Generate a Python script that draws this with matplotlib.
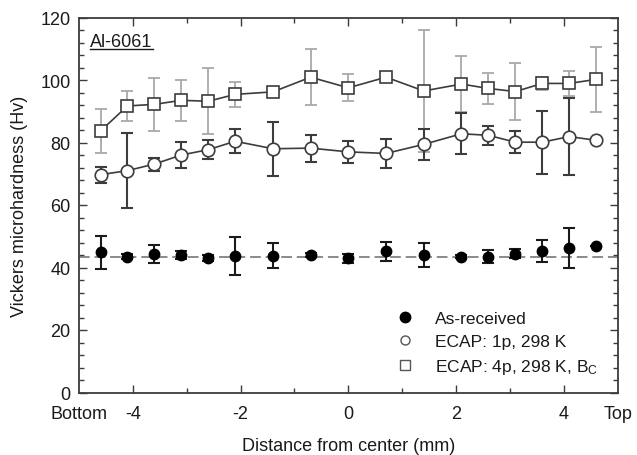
import matplotlib
matplotlib.use("Agg")
import matplotlib.pyplot as plt
from matplotlib.lines import Line2D
from matplotlib.ticker import MultipleLocator, FixedLocator

plt.rcParams['font.family'] = ['Liberation Sans', 'DejaVu Sans']
plt.rcParams['mathtext.fontset'] = 'custom'
plt.rcParams['mathtext.rm'] = 'Liberation Sans'
plt.rcParams['mathtext.it'] = 'Liberation Sans:italic'

# ---- data ----
x_mm = [-4.6, -4.1, -3.6, -3.1, -2.6, -2.1, -1.4, -0.7, 0.0, 0.7, 1.4, 2.1, 2.6, 3.1, 3.6, 4.1, 4.6]
asrec = [44.9, 43.5, 44.3, 44.0, 43.0, 43.6, 43.8, 44.1, 42.9, 45.2, 44.1, 43.5, 43.5, 44.4, 45.2, 46.1, 46.9]
asrec_err = [5.3, 0.8, 2.9, 1.3, 1.0, 6.1, 4.0, 0.6, 1.3, 3.0, 3.8, 0.5, 2.2, 1.5, 3.5, 6.4, 0.0]
ecap1 = [69.7, 71.0, 73.1, 76.0, 77.7, 80.4, 78.0, 78.2, 77.0, 76.5, 79.4, 82.8, 82.3, 80.1, 80.1, 81.9, 80.7]
ecap1_err = [2.5, 12.0, 2.1, 4.1, 3.0, 3.9, 8.7, 4.3, 3.4, 4.6, 5.0, 6.5, 3.1, 3.5, 10.1, 12.2, 0.0]
ecap4 = [83.7, 91.7, 92.2, 93.5, 93.2, 95.4, 96.2, 100.9, 97.5, 100.9, 96.5, 98.7, 97.3, 96.3, 98.9, 98.9, 100.2]
ecap4_err = [6.9, 4.7, 8.5, 6.6, 10.5, 4.0, 0.5, 9.0, 4.3, 0.5, 19.5, 9.0, 5.1, 9.2, 2.2, 4.1, 10.5]
asrec_mean = 43.5

xtick_pos = [-5, -4, -2, 0, 2, 4, 5]
xtick_labels = ['Bottom', '-4', '-2', '0', '2', '4', 'Top']
ytick_pos = [0, 20, 40, 60, 80, 100, 120]

legend_labels = ['As-received', 'ECAP: 1p, 298 K', 'ECAP: 4p, 298 K, B$_\\mathrm{C}$']
sample_label = 'Al-6061'

# ---- figure ----
W, H = 637, 456
fig = plt.figure(figsize=(W / 100, H / 100), dpi=100)
ax = fig.add_axes([79 / W, 1 - 393.5 / H, (617.7 - 79) / W, (393.5 - 18.5) / H])

dark = '#3c3c3c'
light = '#a9a9a9'
FS = 13

# ECAP 4p squares
ax.errorbar(x_mm, ecap4, yerr=ecap4_err, fmt='none', ecolor=light, elinewidth=1.3,
            capsize=4, capthick=1.3, zorder=2)
ax.plot(x_mm, ecap4, color=dark, lw=1.2, marker='s', ms=8, mfc='white', mec=dark,
        mew=1.2, zorder=3)

# ECAP 1p circles
ax.errorbar(x_mm, ecap1, yerr=ecap1_err, fmt='none', ecolor=dark, elinewidth=1.5,
            capsize=4.5, capthick=1.5, zorder=4)
ax.plot(x_mm, ecap1, color=dark, lw=1.2, marker='o', ms=9, mfc='white', mec=dark,
        mew=1.2, zorder=5)

# As-received
ax.axhline(asrec_mean, color='#8a8a8a', lw=1.4, ls=(0, (5.5, 2.5)), zorder=1)
ax.errorbar(x_mm, asrec, yerr=asrec_err, fmt='o', color='black', ms=7.5,
            ecolor='#1a1a1a', elinewidth=1.5, capsize=4.5, capthick=1.5, zorder=6)

ax.set_xlim(-5, 5)
ax.set_ylim(0, 120)

ax.xaxis.set_major_locator(FixedLocator(xtick_pos))
ax.set_xticklabels(xtick_labels)
ax.xaxis.set_minor_locator(FixedLocator([-3, -1, 1, 3]))
ax.yaxis.set_major_locator(FixedLocator(ytick_pos))
ax.yaxis.set_minor_locator(MultipleLocator(4))

ax.tick_params(which='both', direction='in', top=True, right=True, colors=dark,
               labelcolor='#1a1a1a', labelsize=FS)
ax.tick_params(which='major', length=6, width=1.0)
ax.tick_params(which='minor', length=3.5, width=1.0)
ax.tick_params(axis='x', which='major', pad=9)
ax.tick_params(axis='y', which='major', pad=6)
# hide tick marks at the Bottom/Top label positions
for t in ax.xaxis.get_major_ticks():
    if t.get_loc() in (-5, 5):
        t.tick1line.set_visible(False)
        t.tick2line.set_visible(False)

for s in ax.spines.values():
    s.set_color(dark)
    s.set_linewidth(1.3)

ax.set_xlabel('Distance from center (mm)', fontsize=FS, color='#1a1a1a', labelpad=11)
ax.set_ylabel('Vickers microhardness (Hv)', fontsize=FS, color='#1a1a1a', labelpad=9)

# sample label with underline
txt = ax.text(0.021, 0.935, sample_label, transform=ax.transAxes, fontsize=FS,
              color='#1a1a1a', ha='left', va='center')
fig.canvas.draw()
bb = txt.get_window_extent(renderer=fig.canvas.get_renderer())
inv = fig.transFigure.inverted()
(x0, y0) = inv.transform((bb.x0, bb.y0 + 1))
(x1, _) = inv.transform((bb.x1, bb.y0 + 1))
fig.add_artist(Line2D([x0, x1], [y0, y0], transform=fig.transFigure, color='#1a1a1a', lw=1.0))

handles = [
    Line2D([], [], ls='none', marker='o', ms=7.5, color='black'),
    Line2D([], [], ls='none', marker='o', ms=6.5, mfc='white', mec='#555555', mew=1.0),
    Line2D([], [], ls='none', marker='s', ms=6.5, mfc='white', mec='#555555', mew=1.0),
]
ax.legend(handles, legend_labels, loc='upper left', bbox_to_anchor=(0.589, 0.217),
          frameon=False, fontsize=12.5, handlelength=1.0, handletextpad=1.22,
          labelspacing=0.45, borderpad=0, borderaxespad=0, labelcolor='#1a1a1a')

fig.savefig('out.png', dpi=100)
